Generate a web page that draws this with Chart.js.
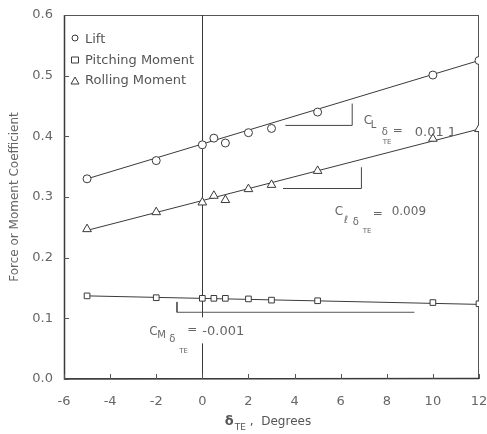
<!DOCTYPE html>
<html lang="en">
<head>
<meta charset="utf-8">
<title>Trailing-edge deflection coefficients</title>
<script src="https://cdn.jsdelivr.net/npm/chart.js"></script>
<style>
    body { margin: 0; background: #fff; }
    canvas { display: block; }
</style>
</head>
<body>
<canvas id="coefChart" width="487" height="434"></canvas>
<script>
    // deflection angles (deg) and measured coefficients
    const deflection = [-5, -2, 0, 0.5, 1, 2, 3, 5, 10, 12];
    const lift     = [0.330, 0.360, 0.386, 0.397, 0.389, 0.406, 0.413, 0.440, 0.501, 0.525];
    const pitching = [0.137, 0.134, 0.133, 0.133, 0.133, 0.132, 0.130, 0.129, 0.126, 0.124];
    const rolling  = [0.247, 0.275, 0.291, 0.302, 0.295, 0.313, 0.320, 0.343, 0.396, 0.412];

    // straight-line fits (end points)
    const fitX        = [-5, 12];
    const liftFit     = [0.330, 0.525];
    const rollingFit  = [0.245, 0.412];
    const pitchingFit = [0.137, 0.123];

    // slope guides
    const liftGuideX = [3.6, 6.5, 6.5],   liftGuideY = [0.418, 0.418, 0.454];
    const rollGuideX = [3.5, 6.9, 6.9],   rollGuideY = [0.314, 0.314, 0.349];
    const pitchGuideX = [-1.1, -1.1, 9.2], pitchGuideY = [0.127, 0.110, 0.110];

    const xMin = -6, xMax = 12, xStep = 2;
    const yMin = 0, yMax = 0.6, yStep = 0.1;

    const ink = '#3a3a3a';
    const textGray = '#666';
    const FONT = 'DejaVu Sans';

    const pts = (xs, ys) => xs.map((x, i) => ({ x: x, y: ys[i] }));

    function markers(label, ys, style, r) {
        return {
            label: label, data: pts(deflection, ys), showLine: false,
            pointStyle: style, pointRadius: r, pointBorderWidth: 1,
            pointBorderColor: ink, pointBackgroundColor: '#fff', order: 1
        };
    }
    function line(xs, ys, color) {
        return {
            data: pts(xs, ys), showLine: true, pointRadius: 0,
            borderColor: color, borderWidth: 1, fill: false, order: 2
        };
    }

    // C_{sym δTE} = value
    function coefLabel(ctx, px, py, sym, value, o) {
        ctx.fillStyle = textGray;
        ctx.textAlign = 'left';
        ctx.textBaseline = 'alphabetic';
        ctx.font = '12px "' + FONT + '"';
        ctx.fillText('C', px, py);
        ctx.font = '10px "' + FONT + '"';
        ctx.fillText(sym, px + o.sub[0], py + o.sub[1]);
        ctx.fillText('δ', px + o.d[0], py + o.d[1]);
        ctx.font = '7px "' + FONT + '"';
        ctx.fillText('TE', px + o.te[0], py + o.te[1]);
        ctx.font = '12px "' + FONT + '"';
        ctx.fillText('=', px + o.eq[0], py + o.eq[1]);
        ctx.font = o.size + 'px "' + FONT + '"';
        ctx.fillText(value, px + o.val[0], py + o.val[1]);
    }

    const decorations = {
        id: 'decorations',
        beforeDatasetsDraw(chart) {
            const { ctx, chartArea: a, scales: { x, y } } = chart;
            ctx.save();
            ctx.lineWidth = 1;
            // frame
            ctx.strokeStyle = '#555';
            ctx.strokeRect(a.left + 0.5, a.top + 0.5, a.right - a.left - 1, a.bottom - a.top - 1);
            ctx.beginPath();
            ctx.moveTo(a.left + 0.5, a.top);
            ctx.lineTo(a.left + 0.5, a.bottom);
            ctx.lineTo(a.right, a.bottom - 0.5);
            ctx.strokeStyle = ink;
            ctx.lineWidth = 1.5;
            ctx.stroke();
            // zero deflection line
            const x0 = Math.round(x.getPixelForValue(0)) + 0.5;
            ctx.lineWidth = 1;
            ctx.beginPath();
            ctx.moveTo(x0, a.top);
            ctx.lineTo(x0, a.bottom);
            ctx.stroke();
            // inside tick marks
            ctx.strokeStyle = '#555';
            ctx.beginPath();
            x.ticks.forEach(t => {
                const px = Math.round(x.getPixelForValue(t.value)) + 0.5;
                ctx.moveTo(px, a.bottom);
                ctx.lineTo(px, a.bottom - 5);
            });
            y.ticks.forEach(t => {
                const py = Math.round(y.getPixelForValue(t.value)) + 0.5;
                ctx.moveTo(a.left, py);
                ctx.lineTo(a.left + 5, py);
            });
            ctx.stroke();
            ctx.restore();
        },
        afterDatasetsDraw(chart) {
            const { ctx, chartArea: a, scales: { x, y } } = chart;
            ctx.save();

            // slope annotations
            coefLabel(ctx, x.getPixelForValue(7.0), y.getPixelForValue(0.421), 'L', '0.01 1', {
                sub: [7, 4], d: [18, 11], te: [19, 20], eq: [29, 10], val: [51, 12], size: 13
            });
            coefLabel(ctx, x.getPixelForValue(5.74), y.getPixelForValue(0.270), 'ℓ', '0.009', {
                sub: [9, 8], d: [18, 10], te: [28, 18], eq: [38, 2], val: [57, 0], size: 12
            });
            const mx = x.getPixelForValue(-2.3), my = y.getPixelForValue(0.072);
            ctx.fillStyle = '#fff';
            ctx.fillRect(mx - 3, my - 18, 108, 26);
            coefLabel(ctx, mx, my, 'M', '-0.001', {
                sub: [8, 3], d: [20, 7], te: [30, 18], eq: [38, -2], val: [53, 0], size: 13
            });

            // legend
            const lx = a.left + 11, ly = a.top + 25;
            const rows = ['Lift', 'Pitching Moment', 'Rolling Moment'];
            ctx.strokeStyle = ink;
            ctx.lineWidth = 1;
            ctx.fillStyle = '#fff';
            rows.forEach((name, i) => {
                const cy = ly + i * 20.5;
                ctx.beginPath();
                if (i === 0) {
                    ctx.arc(lx, cy - 2, 3, 0, Math.PI * 2);
                } else if (i === 1) {
                    ctx.rect(lx - 3.5, cy - 3.5, 7, 6);
                } else {
                    ctx.moveTo(lx, cy - 4);
                    ctx.lineTo(lx + 4, cy + 3);
                    ctx.lineTo(lx - 4, cy + 3);
                    ctx.closePath();
                }
                ctx.fill();
                ctx.stroke();
            });
            ctx.fillStyle = '#555';
            ctx.font = '13px "' + FONT + '"';
            ctx.textBaseline = 'middle';
            ctx.textAlign = 'left';
            rows.forEach((name, i) => ctx.fillText(name, lx + 10, ly + i * 20.5));

            ctx.restore();
        },
        afterDraw(chart) {
            // x axis title: δTE , Degrees
            const { ctx, chartArea: a } = chart;
            ctx.save();
            ctx.fillStyle = '#555';
            ctx.textBaseline = 'alphabetic';
            ctx.textAlign = 'left';
            const base = 425;
            ctx.font = 'bold 13px "' + FONT + '"';
            const wd = ctx.measureText('δ').width;
            ctx.font = '9px "' + FONT + '"';
            const wt = ctx.measureText('TE').width;
            ctx.font = '12px "' + FONT + '"';
            const wr = ctx.measureText(' ,  Degrees').width;
            let sx = (a.left + a.right) / 2 - 4 - (wd + wt + wr) / 2;
            ctx.font = 'bold 13px "' + FONT + '"';
            ctx.fillText('δ', sx, base);
            ctx.font = '9px "' + FONT + '"';
            ctx.fillText('TE', sx + wd + 1, base + 5);
            ctx.font = '12px "' + FONT + '"';
            ctx.fillText(' ,  Degrees', sx + wd + wt + 1, base);
            ctx.restore();
        }
    };

    new Chart(document.getElementById('coefChart'), {
        type: 'scatter',
        data: {
            datasets: [
                markers('Lift', lift, 'circle', 4),
                markers('Pitching Moment', pitching, 'rect', 4),
                markers('Rolling Moment', rolling, 'triangle', 5),
                line(fitX, liftFit, ink),
                line(fitX, rollingFit, ink),
                line(fitX, pitchingFit, ink),
                line(liftGuideX, liftGuideY, '#444'),
                line(rollGuideX, rollGuideY, '#444'),
                line(pitchGuideX, pitchGuideY, '#555')
            ]
        },
        plugins: [decorations],
        options: {
            responsive: false,
            animation: false,
            layout: { padding: { left: 0, top: 15, right: 8, bottom: 0 } },
            plugins: { legend: { display: false }, tooltip: { enabled: false } },
            scales: {
                x: {
                    type: 'linear', min: xMin, max: xMax,
                    ticks: { stepSize: xStep, color: textGray, padding: 15, maxRotation: 0,
                             font: { family: FONT, size: 13 } },
                    grid: { display: false, drawTicks: false },
                    border: { display: false },
                    afterFit: s => { s.height = 55; s.paddingLeft = 0; s.paddingRight = 0; }
                },
                y: {
                    min: yMin, max: yMax,
                    ticks: { stepSize: yStep, color: textGray, padding: 11,
                             font: { family: FONT, size: 13 },
                             callback: v => v.toFixed(1) },
                    grid: { display: false, drawTicks: false },
                    border: { display: false },
                    title: { display: true, text: 'Force or Moment Coefficient', color: textGray,
                             font: { family: FONT, size: 12 }, padding: { top: 8, bottom: 0 } },
                    afterFit: s => { s.width = 64; s.paddingTop = 0; s.paddingBottom = 0; }
                }
            }
        }
    });
</script>
</body>
</html>
